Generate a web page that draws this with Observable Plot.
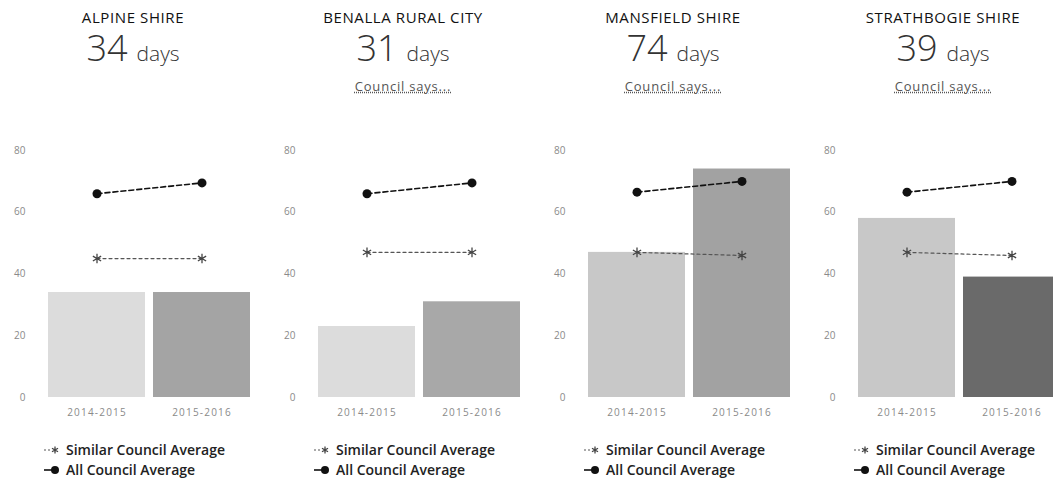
<!DOCTYPE html>
<html><head><meta charset="utf-8">
<script src="https://cdn.jsdelivr.net/npm/d3@7"></script>
<script src="https://cdn.jsdelivr.net/npm/@observablehq/plot@0.6"></script>
<style>
body{margin:0;background:#fff;font-family:"Open Sans",sans-serif;}
#root{position:relative;width:1053px;height:481px;overflow:hidden;background:#fff;}
.panel{position:absolute;top:0;width:270px;height:481px;}
.title{position:absolute;left:0;width:266px;top:10px;text-align:center;font-size:15px;line-height:15px;color:#111;white-space:nowrap;letter-spacing:0.6px;}
.big{position:absolute;left:0;width:266px;top:30px;text-align:center;font-size:36px;line-height:36px;color:#333;font-weight:300;white-space:nowrap;}
.big span{font-size:21px;margin-left:9px;}
.says{position:absolute;left:0;width:266px;top:80px;text-align:center;font-size:13px;line-height:13px;color:#555;white-space:nowrap;letter-spacing:0.8px;}
.says span{text-decoration:underline;text-decoration-style:dotted;}
.chart{position:absolute;left:0;top:140px;}
.legend{position:absolute;top:440px;font-size:14px;font-weight:600;color:#222;line-height:20px;white-space:nowrap;}
.legend div{display:flex;align-items:center;}
.legend svg{margin-right:6px;}
svg [aria-label="x-axis tick label"] text, svg [aria-label="x-axis"] text{letter-spacing:1.2px;}
</style>
</head><body><div id="root"></div>
<script>
const councils = ["ALPINE SHIRE","BENALLA RURAL CITY","MANSFIELD SHIRE","STRATHBOGIE SHIRE"];
const headlineDays = [34, 31, 74, 39];
const hasCouncilSays = [false, true, true, true];
const years = ["2014-2015","2015-2016"];
const councilValues = [[34, 34],[23, 31],[47, 74],[58, 39]];
const similarAverage = [[45, 45],[47, 47],[47, 46],[47, 46]];
const allAverage = [[66, 69.5],[66, 69.5],[66.5, 70],[66.5, 70]];
const yTicks = [0, 20, 40, 60, 80];
const legendLabels = ["Similar Council Average","All Council Average"];
// styles
const barColors = [["#dcdcdc","#a4a4a4"],["#dcdcdc","#a8a8a8"],["#c8c8c8","#a2a2a2"],["#c8c8c8","#6a6a6a"]];

const root = document.getElementById("root");

councils.forEach((name, i) => {
  const panel = document.createElement("div");
  panel.className = "panel";
  panel.style.left = (270 * i) + "px";
  root.appendChild(panel);

  const t = document.createElement("div"); t.className = "title"; t.textContent = name; panel.appendChild(t);
  const b = document.createElement("div"); b.className = "big";
  b.innerHTML = headlineDays[i] + "<span>days</span>"; panel.appendChild(b);
  if (hasCouncilSays[i]) {
    const s = document.createElement("div"); s.className = "says";
    s.innerHTML = "<span>Council says...</span>"; panel.appendChild(s);
  }

  const bars = years.map((y, j) => ({year: y, value: councilValues[i][j], color: barColors[i][j]}));
  const sim = years.map((y, j) => ({year: y, value: similarAverage[i][j]}));
  const all = years.map((y, j) => ({year: y, value: allAverage[i][j]}));

  const chart = Plot.plot({
    width: 263, height: 290,
    marginLeft: 47, marginRight: 13, marginTop: 10, marginBottom: 33,
    style: {color: "#8a8a8a", fontSize: "10px", fontFamily: "Open Sans, sans-serif", background: "transparent", overflow: "visible"},
    x: {domain: years, paddingInner: 0.08, paddingOuter: 0, label: null, tickSize: 0, tickPadding: 11},
    y: {domain: [0, 80], ticks: yTicks, label: null, tickSize: 0, tickPadding: 22},
    color: {type: "identity"},
    marks: [
      Plot.barY(bars, {x: "year", y: "value", fill: "color"}),
      Plot.lineY(sim, {x: "year", y: "value", stroke: "#555", strokeWidth: 1.2, strokeDasharray: "3,3"}),
      Plot.dot(sim, {x: "year", y: "value", symbol: "asterisk", stroke: "#444", strokeWidth: 1.3, r: 4.5}),
      Plot.lineY(all, {x: "year", y: "value", stroke: "#111", strokeWidth: 1.6, strokeDasharray: "5,3"}),
      Plot.dot(all, {x: "year", y: "value", fill: "#111", r: 4.5})
    ]
  });
  const wrap = document.createElement("div"); wrap.className = "chart";
  wrap.appendChild(chart); panel.appendChild(wrap);

  const lg = document.createElement("div"); lg.className = "legend";
  lg.style.left = "44px";
  lg.innerHTML =
    `<div><svg width="16" height="12"><line x1="0" y1="6" x2="8" y2="6" stroke="#555" stroke-dasharray="2,2"/><path d="M11,2.5V9.5M7.97,4.25L14.03,7.75M7.97,7.75L14.03,4.25" stroke="#444" stroke-width="1.3"/></svg><span>${legendLabels[0]}</span></div>` +
    `<div><svg width="16" height="12"><line x1="0" y1="6" x2="8" y2="6" stroke="#111" stroke-width="1.6"/><circle cx="11" cy="6" r="4" fill="#111"/></svg><span>${legendLabels[1]}</span></div>`;
  panel.appendChild(lg);
});
</script>
</body></html>
